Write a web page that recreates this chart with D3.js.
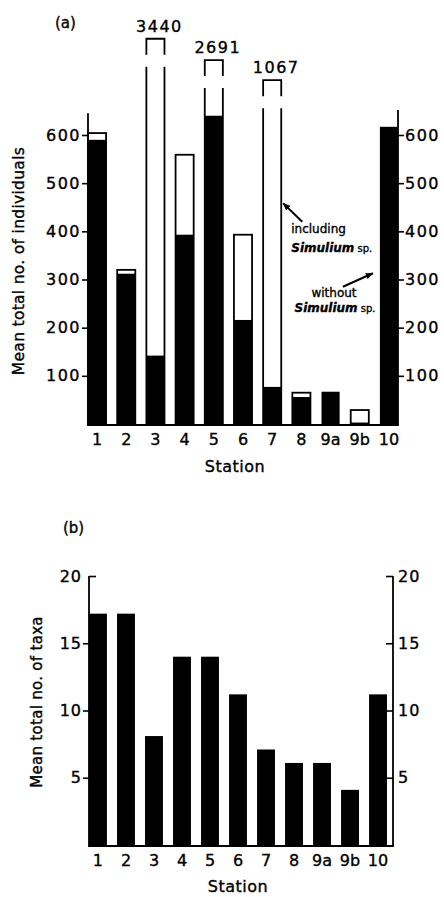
<!DOCTYPE html>
<html>
<head>
<meta charset="utf-8">
<script src="https://cdn.jsdelivr.net/npm/d3@7/dist/d3.min.js"></script>
<style>
  html, body { margin: 0; padding: 0; background: #fff; }
  svg { display: block; }
  text { font-family: "DejaVu Sans", sans-serif; fill: #000; stroke: #000; stroke-width: 0.35px; }
</style>
</head>
<body>
<script>
// Stations sampled along the stream
const stations = ["1", "2", "3", "4", "5", "6", "7", "8", "9a", "9b", "10"];
// (a) mean total number of individuals, including Simulium sp.
const totalIndividuals = [604, 320, 3440, 559, 2691, 393, 1067, 65, 67, 29, 617];
// (a) mean total number of individuals, without Simulium sp.
const withoutSimulium = [590, 312, 142, 393, 640, 216, 77, 56, 67, 3, 617];
// (b) mean total number of taxa
const taxa = [17.2, 17.2, 8.1, 14, 14, 11.2, 7.1, 6.1, 6.1, 4.1, 11.2];
// tick labels
const ticksA = [100, 200, 300, 400, 500, 600];
const ticksB = [5, 10, 15, 20];

const W = 444, H = 897;
const ink = "#000";
const svg = d3.select("body").append("svg").attr("width", W).attr("height", H);

const rowsA = stations.map((s, i) => ({ s, total: totalIndividuals[i], without: withoutSimulium[i] }));
const rowsB = stations.map((s, i) => ({ s, v: taxa[i] }));

/* ---------- panel (a) ---------- */
const leftA = 88, rightA = 398;
const xA = d3.scaleBand().domain(stations).range([leftA, rightA]).paddingInner(0.38).paddingOuter(0);
const yA = d3.scaleLinear().domain([0, 600]).range([424, 135]);
// values far above the axis are drawn on a broken, compressed section
const breakAt = 700;
const yBreak = d3.scaleLinear().domain([1000, 2700, 3500]).range([81, 60, 37]);
const bwA = xA.bandwidth();

const gA = svg.append("g");

// outlined totals (including Simulium) that fit on the axis
gA.selectAll("rect.total")
  .data(rowsA.filter(d => d.total <= breakAt && d.total > d.without))
  .join("rect")
  .attr("x", d => xA(d.s)).attr("width", bwA)
  .attr("y", d => yA(d.total)).attr("height", d => yA(0) - yA(d.total))
  .attr("fill", "#fff").attr("stroke", ink).attr("stroke-width", 1.8);

// broken bars: open sides, a gap, then a capped top carrying the value
const broken = rowsA.filter(d => d.total > breakAt);
broken.forEach(d => {
  const x0 = xA(d.s), x1 = xA(d.s) + bwA;
  const capTop = yBreak(d.total);
  const capBottom = capTop + 16;
  const sideTop = capTop + 28;
  gA.append("path")
    .attr("d", `M${x0},${yA(0)}V${sideTop}M${x1},${yA(0)}V${sideTop}`)
    .attr("stroke", ink).attr("stroke-width", 1.8).attr("fill", "none");
  gA.append("path")
    .attr("d", `M${x0},${capBottom}V${capTop}H${x1}V${capBottom}`)
    .attr("stroke", ink).attr("stroke-width", 1.8).attr("fill", "none");
  gA.append("text")
    .attr("x", (x0 + x1) / 2 + 4).attr("y", capTop - 7)
    .attr("text-anchor", "middle").attr("font-size", 16).attr("letter-spacing", 1.5)
    .text(d.total);
});

// solid bars: without Simulium
gA.selectAll("rect.without")
  .data(rowsA)
  .join("rect")
  .attr("x", d => xA(d.s)).attr("width", bwA)
  .attr("y", d => yA(d.without)).attr("height", d => yA(0) - yA(d.without))
  .attr("fill", ink);

// baseline
gA.append("line").attr("x1", leftA).attr("x2", rightA).attr("y1", yA(0) + 1).attr("y2", yA(0) + 1)
  .attr("stroke", ink).attr("stroke-width", 2);

// left axis
const axLA = gA.append("g").attr("transform", `translate(${leftA},0)`)
  .call(d3.axisLeft(yA).tickValues(ticksA).tickSize(6).tickPadding(1));
axLA.select(".domain").remove();
gA.append("line").attr("x1", leftA).attr("x2", leftA).attr("y1", yA(0) + 2).attr("y2", yA(645))
  .attr("stroke", ink).attr("stroke-width", 1.8);

// right axis
const axRA = gA.append("g").attr("transform", `translate(${rightA},0)`)
  .call(d3.axisRight(yA).tickValues(ticksA).tickSize(6).tickPadding(1));
axRA.select(".domain").remove();
gA.append("line").attr("x1", rightA).attr("x2", rightA).attr("y1", yA(0) + 2).attr("y2", yA(652))
  .attr("stroke", ink).attr("stroke-width", 1.8);

[axLA, axRA].forEach(ax => {
  ax.selectAll(".tick line").attr("stroke", ink).attr("stroke-width", 1.6);
  ax.selectAll(".tick text").attr("font-size", 16).attr("letter-spacing", 1.5)
    .attr("font-family", "DejaVu Sans").attr("fill", ink);
});

// station labels
const axBA = gA.append("g").attr("transform", `translate(0,${yA(0) + 4})`)
  .call(d3.axisBottom(xA).tickSize(0).tickPadding(6));
axBA.select(".domain").remove();
axBA.selectAll(".tick text").attr("font-size", 16).attr("font-family", "DejaVu Sans").attr("fill", ink);

gA.append("text").attr("x", 235).attr("y", 472).attr("text-anchor", "middle")
  .attr("font-size", 16).attr("letter-spacing", 0.5).text("Station");
gA.append("text").attr("transform", `translate(24,${261}) rotate(-90)`).attr("text-anchor", "middle")
  .attr("font-size", 15.5).attr("letter-spacing", 0.3).text("Mean total no. of individuals");
gA.append("text").attr("x", 55).attr("y", 28).attr("font-size", 15).text("(a)");

// annotations
const x7 = xA("7") + bwA, x10 = xA("10");
const defs = svg.append("defs");
defs.append("marker").attr("id", "head").attr("viewBox", "0 0 10 10")
  .attr("refX", 9).attr("refY", 5).attr("markerWidth", 8).attr("markerHeight", 8)
  .attr("orient", "auto").attr("markerUnits", "userSpaceOnUse")
  .append("path").attr("d", "M0,1L10,5L0,9Z").attr("fill", ink);
gA.append("line").attr("x1", x7 + 21).attr("y1", yA(420)).attr("x2", x7 + 2).attr("y2", yA(458))
  .attr("stroke", ink).attr("stroke-width", 2).attr("marker-end", "url(#head)");
gA.append("line").attr("x1", x10 - 37).attr("y1", yA(285)).attr("x2", x10 - 7).attr("y2", yA(313))
  .attr("stroke", ink).attr("stroke-width", 2).attr("marker-end", "url(#head)");

function simuliumLabel(x, y, anchor) {
  const t = gA.append("text").attr("x", x).attr("y", y).attr("text-anchor", anchor).attr("font-size", 12);
  t.append("tspan").attr("font-style", "italic").attr("font-weight", "bold").text("Simulium");
  t.append("tspan").attr("font-size", 10).text(" sp.");
}
gA.append("text").attr("x", x7 + 10).attr("y", yA(397)).attr("font-size", 12).text("including");
simuliumLabel(x7 + 10, yA(357), "start");
gA.append("text").attr("x", 334).attr("y", yA(264)).attr("text-anchor", "middle").attr("font-size", 12).text("without");
simuliumLabel(335, yA(233), "middle");

/* ---------- panel (b) ---------- */
const leftB = 89, rightB = 393;
const xB = d3.scaleBand().domain(stations).range([leftB, 387]).paddingInner(0.36).paddingOuter(0);
const yB = d3.scaleLinear().domain([0, 20]).range([845, 576]);
const gB = svg.append("g");

gB.selectAll("rect")
  .data(rowsB)
  .join("rect")
  .attr("x", d => xB(d.s)).attr("width", xB.bandwidth())
  .attr("y", d => yB(d.v)).attr("height", d => yB(0) - yB(d.v))
  .attr("fill", ink);

gB.append("line").attr("x1", leftB).attr("x2", rightB).attr("y1", yB(0) + 1).attr("y2", yB(0) + 1)
  .attr("stroke", ink).attr("stroke-width", 2);

const axLB = gB.append("g").attr("transform", `translate(${leftB},0)`)
  .call(d3.axisLeft(yB).tickValues(ticksB).tickSize(6).tickPadding(1));
axLB.select(".domain").remove();
// the top tick turns inward as a cap
axLB.selectAll(".tick").filter(d => d === 20).select("line").attr("x2", 7);
gB.append("line").attr("x1", leftB).attr("x2", leftB).attr("y1", yB(0) + 2).attr("y2", yB(20))
  .attr("stroke", ink).attr("stroke-width", 1.8);

const axRB = gB.append("g").attr("transform", `translate(${rightB},0)`)
  .call(d3.axisRight(yB).tickValues(ticksB).tickSizeInner(-7).tickSizeOuter(0).tickPadding(5));
axRB.select(".domain").remove();
gB.append("line").attr("x1", rightB).attr("x2", rightB).attr("y1", yB(0) + 2).attr("y2", yB(20))
  .attr("stroke", ink).attr("stroke-width", 1.8);

[axLB, axRB].forEach(ax => {
  ax.selectAll(".tick line").attr("stroke", ink).attr("stroke-width", 1.6);
  ax.selectAll(".tick text").attr("font-size", 16).attr("letter-spacing", 1)
    .attr("font-family", "DejaVu Sans").attr("fill", ink);
});

const axBB = gB.append("g").attr("transform", `translate(0,${yB(0) + 4})`)
  .call(d3.axisBottom(xB).tickSize(0).tickPadding(6));
axBB.select(".domain").remove();
axBB.selectAll(".tick text").attr("font-size", 16).attr("font-family", "DejaVu Sans").attr("fill", ink);

gB.append("text").attr("x", 238).attr("y", 892).attr("text-anchor", "middle")
  .attr("font-size", 16).attr("letter-spacing", 0.5).text("Station");
gB.append("text").attr("transform", `translate(42,${702}) rotate(-90)`).attr("text-anchor", "middle")
  .attr("font-size", 15).attr("letter-spacing", 0.3).text("Mean total no. of taxa");
gB.append("text").attr("x", 63).attr("y", 533).attr("font-size", 15).text("(b)");
</script>
</body>
</html>
